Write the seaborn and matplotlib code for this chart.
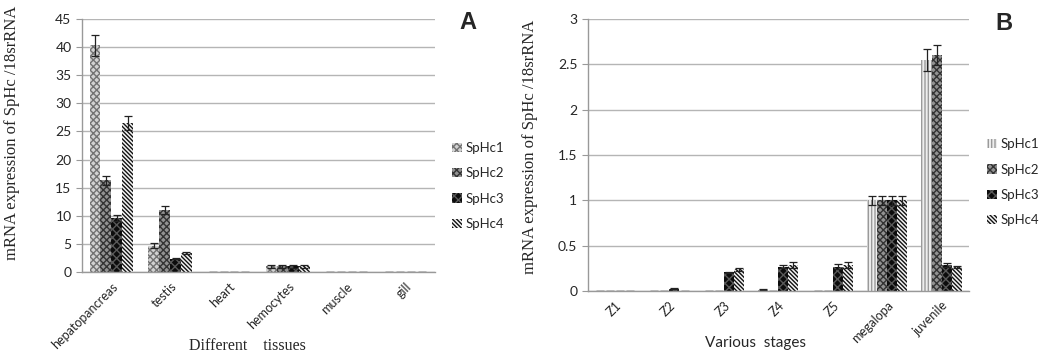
import pandas as pd
import matplotlib.pyplot as plt
import numpy as np
import seaborn as sns
from matplotlib.patches import Patch

genes = ["SpHc1", "SpHc2", "SpHc3", "SpHc4"]

# panel A - tissues
tissues = ["hepatopancreas", "testis", "heart", "hemocytes", "muscle", "gill"]
tis_vals = {
    "SpHc1": [40.3, 4.7, 0.1, 1.0, 0.1, 0.1],
    "SpHc2": [16.3, 11.1, 0.1, 1.0, 0.1, 0.1],
    "SpHc3": [9.6, 2.4, 0.1, 1.0, 0.1, 0.1],
    "SpHc4": [26.5, 3.4, 0.1, 1.0, 0.1, 0.1],
}
tis_err = {
    "SpHc1": [1.9, 0.5, 0.0, 0.3, 0.0, 0.0],
    "SpHc2": [0.8, 0.7, 0.0, 0.3, 0.0, 0.0],
    "SpHc3": [0.6, 0.1, 0.0, 0.3, 0.0, 0.0],
    "SpHc4": [1.3, 0.1, 0.0, 0.3, 0.0, 0.0],
}

# panel B - stages
stages = ["Z1", "Z2", "Z3", "Z4", "Z5", "megalopa", "juvenile"]
stg_vals = {
    "SpHc1": [0.005, 0.005, 0.005, 0.015, 0.005, 1.0, 2.55],
    "SpHc2": [0.005, 0.005, 0.005, 0.005, 0.005, 1.0, 2.6],
    "SpHc3": [0.005, 0.025, 0.21, 0.27, 0.27, 1.0, 0.29],
    "SpHc4": [0.005, 0.005, 0.24, 0.29, 0.29, 1.0, 0.27],
}
stg_err = {
    "SpHc1": [0, 0, 0, 0.005, 0, 0.05, 0.12],
    "SpHc2": [0, 0, 0, 0, 0, 0.05, 0.11],
    "SpHc3": [0, 0.005, 0.005, 0.02, 0.03, 0.05, 0.02],
    "SpHc4": [0, 0, 0.015, 0.03, 0.03, 0.05, 0.01],
}

sns.set_style("white")
plt.rcParams["hatch.linewidth"] = 1.0
plt.rcParams["font.family"] = ["Lato", "DejaVu Sans"]

# (face, hatch colour, hatch)
styles_a = {
    "SpHc1": ("#d2d2d2", "#727272", "xxxxx"),
    "SpHc2": ("#929292", "#333333", "xxxxx"),
    "SpHc3": ("#0c0c0c", "#585858", "xxxx"),
    "SpHc4": ("#f4f4f4", "#111111", "\\" * 8),
}
styles_b = dict(styles_a)
styles_b["SpHc1"] = ("#eeeeee", "#9a9a9a", "|||||")


def panel(ax, cats, vals, errs, styles, ymax, ystep, xlabel, xfont, letter, leg_y):
    df = pd.DataFrame([
        {"cat": c, "gene": g, "value": vals[g][i]}
        for g in genes for i, c in enumerate(cats)
    ])
    sns.barplot(data=df, x="cat", y="value", hue="gene", order=cats,
                hue_order=genes, errorbar=None, width=0.74, gap=0,
                linewidth=0, ax=ax)
    bars = list(ax.containers)
    for g, cont in zip(genes, bars):
        fc, hc, hatch = styles[g]
        xs, ys = [], []
        for bar in cont:
            bar.set_facecolor(fc)
            bar.set_edgecolor(hc)
            bar.set_hatch(hatch)
            bar.set_linewidth(0)
            xs.append(bar.get_x() + bar.get_width() / 2)
            ys.append(bar.get_height())
        ax.errorbar(xs, ys, yerr=errs[g], fmt="none", ecolor="#222222",
                    elinewidth=0.9, capsize=3, capthick=0.9)
    if ax.get_legend():
        ax.get_legend().remove()
    handles = []
    for g in genes:
        fc, hc, hatch = styles[g]
        handles.append(Patch(facecolor=fc, edgecolor=hc, hatch=hatch,
                             linewidth=0, label=g))
    ax.legend(handles=handles, loc="center left", bbox_to_anchor=(1.035, leg_y),
              frameon=False, fontsize=9.5, handlelength=0.7, handleheight=0.7,
              handletextpad=0.3, labelspacing=1.0, borderaxespad=0)

    ax.set_ylim(0, ymax)
    ticks = np.arange(0, ymax + ystep / 2, ystep)
    ax.set_yticks(ticks)
    ax.set_yticklabels([f"{v:g}" for v in ticks])
    ax.set_xlim(-0.5, len(cats) - 0.5)
    ax.yaxis.grid(True, color="#b5b5b5", linewidth=1.0)
    ax.set_axisbelow(True)
    sns.despine(ax=ax)
    for s in ["left", "bottom"]:
        ax.spines[s].set_color("#999999")
        ax.spines[s].set_linewidth(1.0)
    ax.set_xticks(range(len(cats)))
    ax.set_xticklabels(cats, rotation=45, ha="right", rotation_mode="anchor",
                       fontsize=9)
    ax.set_xticks(np.arange(-0.5, len(cats)), minor=True)
    ax.tick_params(axis="x", which="major", length=0, pad=6)
    ax.tick_params(axis="x", which="minor", length=4, color="#999999")
    ax.tick_params(axis="y", length=4, color="#999999", labelsize=10,
                   direction="out", left=True)
    ax.set_ylabel("mRNA expression of SpHc /18srRNA",
                  family="Liberation Serif", fontsize=12)
    ax.set_xlabel(xlabel, **xfont)
    ax.text(1.093, 0.985, letter, transform=ax.transAxes, fontsize=17,
            fontweight="bold", family="Liberation Sans", ha="center", va="center")


fig = plt.figure(figsize=(10.44, 3.52), dpi=100)
ax1 = fig.add_axes([0.0785, 0.227, 0.338, 0.719])
ax2 = fig.add_axes([0.563, 0.173, 0.365, 0.773])

panel(ax1, tissues, tis_vals, tis_err, styles_a, 45, 5, "Different    tissues",
      dict(family="Liberation Serif", fontsize=11.5), "A", 0.34)
ax1.xaxis.set_label_coords(0.47, -0.26)
ax1.yaxis.set_label_coords(-0.175, 0.55)
panel(ax2, stages, stg_vals, stg_err, styles_b, 3, 0.5, "Various  stages",
      dict(fontsize=11), "B", 0.40)
ax2.xaxis.set_label_coords(0.44, -0.165)
ax2.yaxis.set_label_coords(-0.13, 0.53)

fig.savefig("out.png", dpi=100)
